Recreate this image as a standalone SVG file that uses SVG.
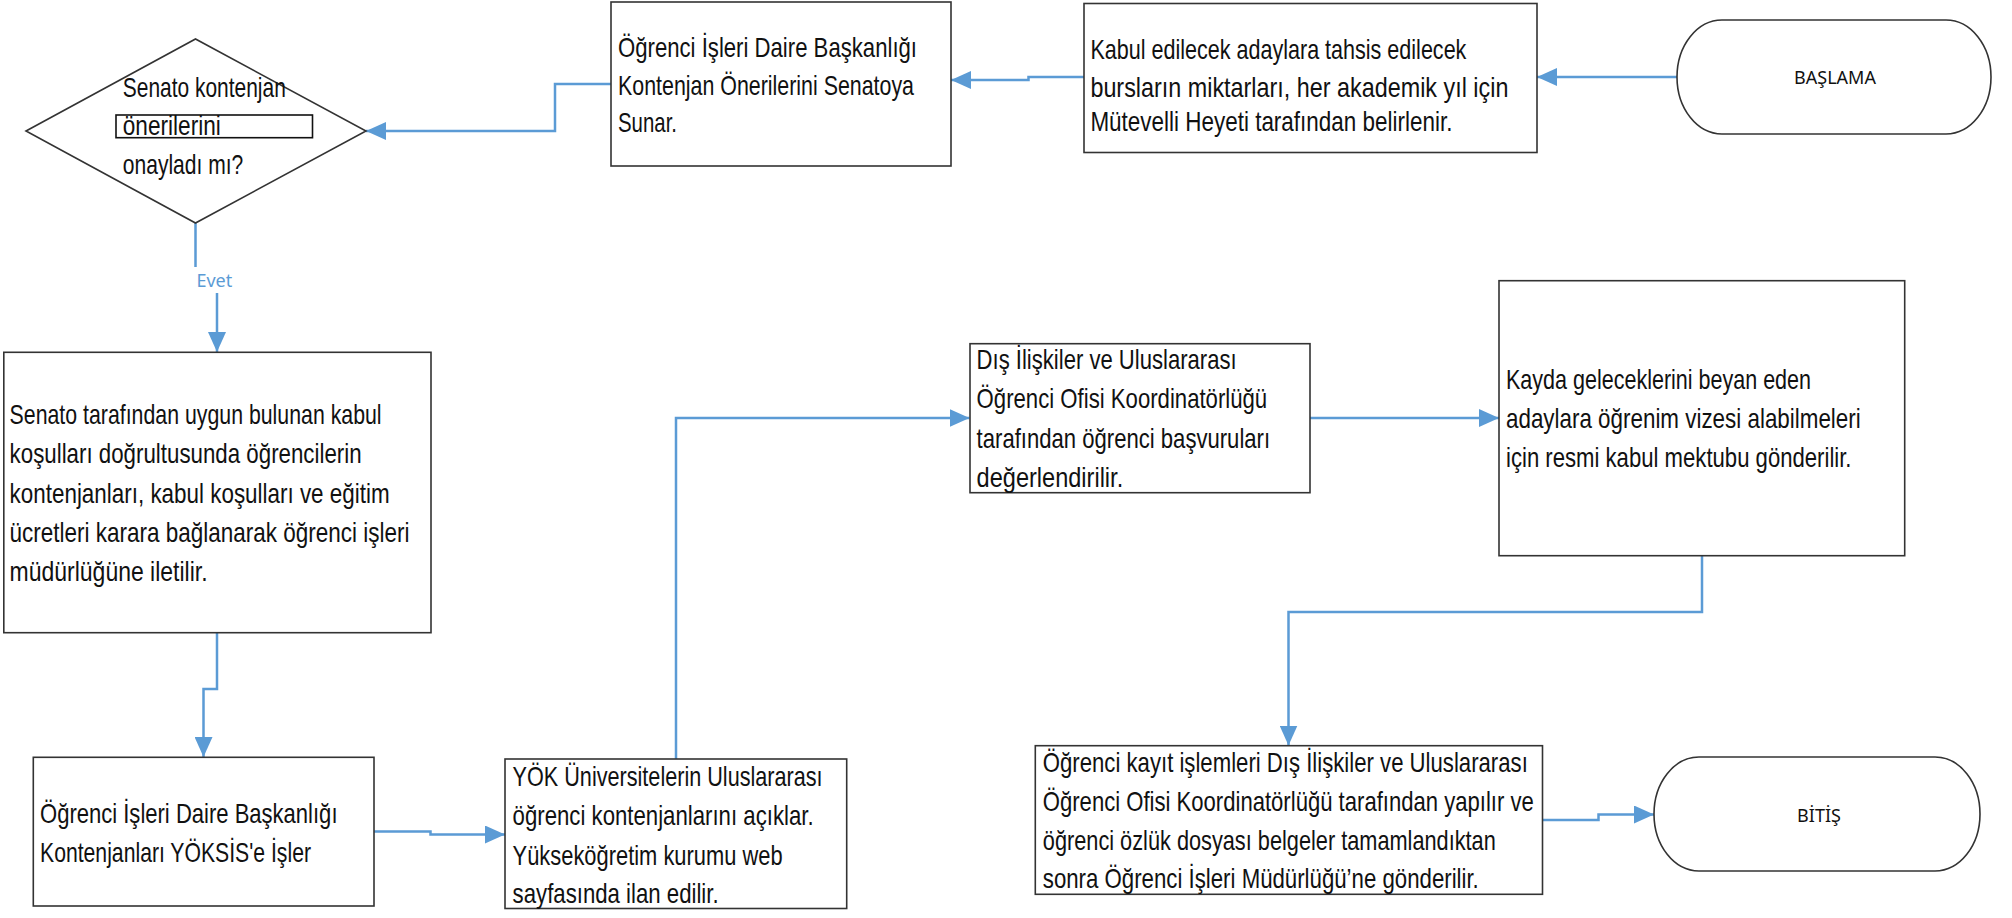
<svg xmlns="http://www.w3.org/2000/svg" width="2012" height="918" viewBox="0 0 2012 918">
<defs>
<style>
.box{fill:#fff;stroke:#333;stroke-width:1.6}
.t{font-family:"Liberation Sans Narrow","Liberation Sans",sans-serif;font-size:28px;fill:#111}
.term{font-family:"Noto Sans","Liberation Sans",sans-serif;font-size:18px;fill:#111;text-anchor:middle}
.conn{fill:none;stroke:#5B9BD5;stroke-width:2.5;marker-end:url(#arr)}
.lbl{font-family:"Noto Sans","Liberation Sans",sans-serif;font-size:18px;fill:#5B9BD5}
</style>
<marker id="arr" markerUnits="userSpaceOnUse" markerWidth="20" markerHeight="18" refX="20" refY="9" orient="auto">
<path d="M0,0 L20,9 L0,18 Z" fill="#5B9BD5"/>
</marker>
</defs>
<rect width="2012" height="918" fill="#fff"/>

<g id="connectors">
<path class="conn" d="M1677,77 H1537"/>
<path class="conn" d="M1084,77 H1028.5 V80 H951"/>
<path class="conn" d="M611,84 H555 V131 H366"/>
<path class="conn" d="M195.5,223 V280 H217 V352"/>
<path class="conn" d="M217,633 V689 H203.5 V757"/>
<path class="conn" d="M374,831.5 H430.5 V834.5 H505"/>
<path class="conn" d="M676,759 V418 H969.5"/>
<path class="conn" d="M1310,418 H1499"/>
<path class="conn" d="M1702,556 V612 H1288.5 V745.5"/>
<path class="conn" d="M1542.5,820 H1598.5 V814.5 H1654"/>
<g id="label-evet">
<rect x="192" y="267" width="46" height="26" fill="#fff"/>
<text class="lbl" x="196.4" y="287.3">Evet</text>
</g>
</g>

<g id="start">
<rect class="box" x="1677" y="20" width="314" height="114" rx="45" ry="57" stroke="#111" stroke-width="2"/>
<text class="term" x="1835" y="84">BAŞLAMA</text>
</g>

<g id="kabul">
<rect class="box" x="1084" y="3.5" width="453" height="149"/>
<text class="t" x="1090.4" y="59.3" textLength="376" lengthAdjust="spacingAndGlyphs">Kabul edilecek adaylara tahsis edilecek</text>
<text class="t" x="1090.4" y="96.7" textLength="418" lengthAdjust="spacingAndGlyphs">bursların miktarları, her akademik yıl için</text>
<text class="t" x="1090.4" y="130.7" textLength="362" lengthAdjust="spacingAndGlyphs">Mütevelli Heyeti tarafından belirlenir.</text>
</g>

<g id="oneri">
<rect class="box" x="611" y="2" width="340" height="164"/>
<text class="t" x="618" y="56.7" textLength="299" lengthAdjust="spacingAndGlyphs">Öğrenci İşleri Daire Başkanlığı</text>
<text class="t" x="618" y="95" textLength="296" lengthAdjust="spacingAndGlyphs">Kontenjan Önerilerini Senatoya</text>
<text class="t" x="618" y="132.3" textLength="59" lengthAdjust="spacingAndGlyphs">Sunar.</text>
</g>

<g id="karar">
<polygon class="box" points="26,131 195.5,39 366,131 195.5,223" stroke="#111"/>
<text class="t" x="122.8" y="97" textLength="163" lengthAdjust="spacingAndGlyphs">Senato kontenjan</text>
<rect x="116" y="115" width="196.5" height="22.7" fill="none" stroke="#111" stroke-width="1.6"/>
<text class="t" x="122.8" y="135" textLength="98" lengthAdjust="spacingAndGlyphs">önerilerini</text>
<text class="t" x="122.8" y="174" textLength="120.5" lengthAdjust="spacingAndGlyphs">onayladı mı?</text>
</g>

<g id="senato">
<rect class="box" x="3.8" y="352.3" width="427.2" height="280.4"/>
<text class="t" x="9.6" y="424" textLength="372" lengthAdjust="spacingAndGlyphs">Senato tarafından uygun bulunan kabul</text>
<text class="t" x="9.6" y="463" textLength="352" lengthAdjust="spacingAndGlyphs">koşulları doğrultusunda öğrencilerin</text>
<text class="t" x="9.6" y="502.7" textLength="380" lengthAdjust="spacingAndGlyphs">kontenjanları, kabul koşulları ve eğitim</text>
<text class="t" x="9.6" y="541.7" textLength="400" lengthAdjust="spacingAndGlyphs">ücretleri karara bağlanarak öğrenci işleri</text>
<text class="t" x="9.6" y="581" textLength="198" lengthAdjust="spacingAndGlyphs">müdürlüğüne iletilir.</text>
</g>

<g id="yoksis">
<rect class="box" x="33.3" y="757.3" width="340.7" height="148.7"/>
<text class="t" x="40" y="822.7" textLength="297.5" lengthAdjust="spacingAndGlyphs">Öğrenci İşleri Daire Başkanlığı</text>
<text class="t" x="40" y="861.7" textLength="271" lengthAdjust="spacingAndGlyphs">Kontenjanları YÖKSİS'e İşler</text>
</g>

<g id="yok">
<rect class="box" x="505" y="759" width="341.7" height="149.5"/>
<text class="t" x="512.6" y="786" textLength="310" lengthAdjust="spacingAndGlyphs">YÖK Üniversitelerin Uluslararası</text>
<text class="t" x="512.6" y="825" textLength="301" lengthAdjust="spacingAndGlyphs">öğrenci kontenjanlarını açıklar.</text>
<text class="t" x="512.6" y="865" textLength="270" lengthAdjust="spacingAndGlyphs">Yükseköğretim kurumu web</text>
<text class="t" x="512.6" y="902.7" textLength="206" lengthAdjust="spacingAndGlyphs">sayfasında ilan edilir.</text>
</g>

<g id="dis">
<rect class="box" x="970" y="343.7" width="340" height="149"/>
<text class="t" x="976.6" y="369.3" textLength="260" lengthAdjust="spacingAndGlyphs">Dış İlişkiler ve Uluslararası</text>
<text class="t" x="976.6" y="407.7" textLength="290.6" lengthAdjust="spacingAndGlyphs">Öğrenci Ofisi Koordinatörlüğü</text>
<text class="t" x="976.6" y="447.7" textLength="293.5" lengthAdjust="spacingAndGlyphs">tarafından öğrenci başvuruları</text>
<text class="t" x="976.6" y="486.7" textLength="146.6" lengthAdjust="spacingAndGlyphs">değerlendirilir.</text>
</g>

<g id="kayda">
<rect class="box" x="1499" y="280.7" width="405.7" height="275"/>
<text class="t" x="1506" y="389.3" textLength="305" lengthAdjust="spacingAndGlyphs">Kayda geleceklerini beyan eden</text>
<text class="t" x="1506" y="428.3" textLength="354.7" lengthAdjust="spacingAndGlyphs">adaylara öğrenim vizesi alabilmeleri</text>
<text class="t" x="1506" y="467.3" textLength="345.5" lengthAdjust="spacingAndGlyphs">için resmi kabul mektubu gönderilir.</text>
</g>

<g id="kayit">
<rect class="box" x="1035.3" y="745.7" width="507.2" height="148.6"/>
<text class="t" x="1042.8" y="771.7" textLength="485" lengthAdjust="spacingAndGlyphs">Öğrenci kayıt işlemleri Dış İlişkiler ve Uluslararası</text>
<text class="t" x="1042.8" y="810.7" textLength="491" lengthAdjust="spacingAndGlyphs">Öğrenci Ofisi Koordinatörlüğü tarafından yapılır ve</text>
<text class="t" x="1042.8" y="850" textLength="453" lengthAdjust="spacingAndGlyphs">öğrenci özlük dosyası belgeler tamamlandıktan</text>
<text class="t" x="1042.8" y="888.3" textLength="436" lengthAdjust="spacingAndGlyphs">sonra Öğrenci İşleri Müdürlüğü’ne gönderilir.</text>
</g>

<g id="end">
<rect class="box" x="1654" y="757" width="326" height="114" rx="45" ry="57" stroke="#111" stroke-width="2"/>
<text class="term" x="1819" y="821.7">BİTİŞ</text>
</g>
</svg>
